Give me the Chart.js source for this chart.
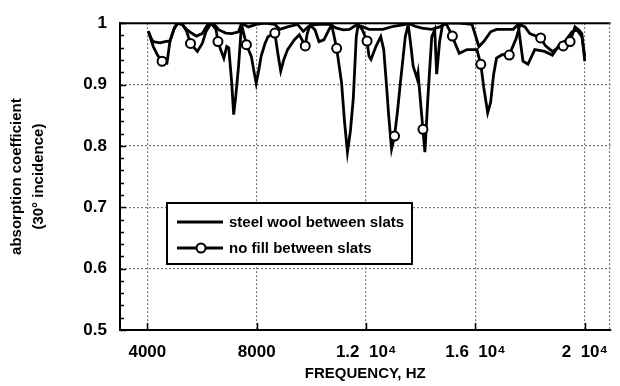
<!DOCTYPE html>
<html>
<head>
<meta charset="utf-8">
<script src="https://cdn.jsdelivr.net/npm/chart.js@4.4.0/dist/chart.umd.min.js"></script>
<style>
  html, body { margin: 0; padding: 0; background: #fff; }
  #wrap { width: 620px; height: 386px; }
</style>
</head>
<body>
<div id="wrap"><canvas id="absorptionChart" width="620" height="386"></canvas></div>
<script>
// frequencies (Hz) and absorption values
const steelWoolFreq = [4036, 4143, 4215, 4466, 4646, 4825, 4969, 5112, 5291, 5435, 5614, 5793, 6009, 6152, 6260, 6404,
  6619, 6870, 7085, 7336, 7444, 7695, 7982, 8304, 8663, 8843, 9129, 9488, 9703, 9954, 10313, 10672, 10923, 11174,
  11390, 11641, 11892, 12107, 12609, 13004, 13434, 13541, 13792, 14043, 14402, 14689, 14941, 15407, 15873, 16125,
  16304, 16555, 16770, 17021, 17379, 17559, 17738, 17918, 18169, 18527, 18814, 19065, 19281, 19532, 19712, 19891, 19998];
const steelWoolAbs = [0.987, 0.975, 0.970, 0.968, 0.970, 0.971, 0.990, 1.0, 0.997, 0.990, 0.984, 0.979, 0.983, 0.994, 1.0, 1.0,
  0.989, 0.984, 0.983, 0.986, 1.0, 0.994, 0.998, 1.0, 0.998, 0.990, 0.994, 0.998, 0.987, 0.997, 0.998, 0.998, 0.992, 0.989,
  0.990, 0.997, 0.994, 0.990, 0.990, 0.995, 0.998, 1.0, 0.995, 0.992, 0.990, 0.994, 1.0, 1.0, 0.998, 0.962,
  0.970, 0.986, 0.990, 0.990, 0.990, 0.998, 0.938, 0.933, 0.957, 0.954, 0.948, 0.965, 0.971, 0.986, 0.989, 0.978, 0.946];

const noFillFreq = [4036, 4215, 4359, 4538, 4717, 4825, 5004, 5112, 5291, 5435, 5578, 5829, 6009, 6152, 6332, 6511,
  6583, 6690, 6798, 6905, 6977, 7085, 7157, 7229, 7336, 7444, 7623, 7802, 7910, 7982, 8089, 8161, 8304, 8412, 8663,
  8771, 8878, 8986, 9129, 9380, 9560, 9775, 9847, 9954, 10134, 10277, 10457, 10636, 10744, 10923, 11103, 11210,
  11318, 11426, 11533, 11641, 11712, 11856, 12035, 12107, 12179, 12358, 12537, 12645, 12753, 12824, 12932, 13040,
  13147, 13255, 13434, 13541, 13649, 13721, 13864, 13900, 14008, 14079, 14151, 14259, 14402, 14510, 14582, 14689,
  14797, 14941, 15156, 15227, 15407, 15694, 16052, 16196, 16304, 16447, 16555, 16662, 16770, 16985, 17236, 17487,
  17631, 17810, 17989, 18384, 18563, 18814, 19029, 19209, 19460, 19640, 19783, 19891, 19998];
const noFillAbs = [0.987, 0.962, 0.949, 0.938, 0.935, 0.970, 0.994, 1.0, 0.998, 0.987, 0.967, 0.954, 0.967, 0.987, 1.0, 0.990,
  0.970, 0.956, 0.943, 0.962, 0.960, 0.903, 0.851, 0.879, 0.930, 0.998, 0.965, 0.946, 0.919, 0.902, 0.927, 0.946, 0.967, 0.978, 0.984,
  0.951, 0.922, 0.940, 0.957, 0.973, 0.981, 0.963, 0.983, 0.997, 0.989, 0.970, 0.973, 0.989, 0.997, 0.959, 0.903, 0.840,
  0.790, 0.824, 0.878, 0.978, 0.998, 0.990, 0.971, 0.946, 0.941, 0.962, 0.978, 0.957, 0.895, 0.851, 0.795, 0.816,
  0.856, 0.903, 0.978, 0.998, 0.959, 0.930, 0.910, 0.919, 0.863, 0.827, 0.790, 0.878, 0.978, 0.989, 0.917, 0.970,
  0.998, 0.998, 0.979, 0.970, 0.951, 0.957, 0.957, 0.933, 0.895, 0.854, 0.871, 0.916, 0.943, 0.949, 0.948, 0.975,
  0.998, 0.994, 0.983, 0.976, 0.963, 0.954, 0.960, 0.963, 0.970, 0.994, 0.989, 0.983, 0.938];
// points of the no-fill curve that carry an open circle
const noFillMarkerFreq = [4538, 5578, 6583, 7623, 8663, 9775, 10923, 12035, 13040, 14079, 15156, 16196, 17236, 18384, 19209, 19460];

const seriesLabels = ['steel wool between slats', 'no fill between slats'];
const xTickValues = [4000, 8000, 12000, 16000, 20000];
const xTickLabels = ['4000', '8000', '1.2  10⁴', '1.6  10⁴', '2  10⁴'];
const yTickValues = [0.5, 0.6, 0.7, 0.8, 0.9, 1];
const yTickLabels = ['0.5', '0.6', '0.7', '0.8', '0.9', '1'];

const bold = (size) => ({ family: 'Liberation Sans, Arial, sans-serif', size: size, weight: 'bold' });

// frame, inward tick marks and the boxed legend inside the plot
const frameAndLegend = {
    id: 'frameAndLegend',
    afterDatasetsDraw(chart) {
        const { ctx, chartArea: a, scales: { x, y } } = chart;
        ctx.save();

        ctx.strokeStyle = '#000';
        ctx.lineWidth = 2;
        ctx.beginPath();
        ctx.moveTo(a.left, a.top);
        ctx.lineTo(a.right, a.top);
        ctx.stroke();

        ctx.strokeStyle = '#777';
        ctx.lineWidth = 1.2;
        ctx.setLineDash([2, 2]);
        ctx.beginPath();
        ctx.moveTo(a.right - 1, a.top);
        ctx.lineTo(a.right - 1, a.bottom);
        ctx.stroke();
        ctx.setLineDash([]);

        ctx.strokeStyle = '#000';
        ctx.lineWidth = 1.5;
        ctx.beginPath();
        for (let i = 0; i <= 25; i++) {
            const v = 0.5 + i * 0.02;
            const py = Math.round(y.getPixelForValue(v)) + 0.5;
            ctx.moveTo(a.left, py);
            ctx.lineTo(a.left + (i % 5 === 0 ? 6 : 4), py);
        }
        xTickValues.forEach((v) => {
            const px = Math.round(x.getPixelForValue(v)) + 0.5;
            ctx.moveTo(px, a.bottom);
            ctx.lineTo(px, a.bottom - 7);
        });
        ctx.stroke();

        // legend box
        const bx = 167, by = 203, bw = 245, bh = 61;
        ctx.fillStyle = '#fff';
        ctx.fillRect(bx, by, bw, bh);
        ctx.lineWidth = 2;
        ctx.strokeRect(bx, by, bw, bh);

        const rows = [222, 248];
        ctx.lineWidth = 2.8;
        rows.forEach((ry) => {
            ctx.beginPath();
            ctx.moveTo(177, ry);
            ctx.lineTo(223, ry);
            ctx.stroke();
        });
        ctx.beginPath();
        ctx.arc(201, rows[1], 4.5, 0, Math.PI * 2);
        ctx.fillStyle = '#fff';
        ctx.fill();
        ctx.lineWidth = 2;
        ctx.stroke();

        ctx.fillStyle = '#000';
        ctx.font = 'bold 15px "Liberation Sans", Arial, sans-serif';
        ctx.textBaseline = 'middle';
        ctx.textAlign = 'left';
        seriesLabels.forEach((t, i) => ctx.fillText(t, 229, rows[i] + 1));
        ctx.restore();
    }
};

const toPoints = (xs, ys) => xs.map((f, i) => ({ x: f, y: ys[i] }));

new Chart(document.getElementById('absorptionChart').getContext('2d'), {
    type: 'line',
    data: {
        datasets: [
            {
                label: seriesLabels[0],
                data: toPoints(steelWoolFreq, steelWoolAbs),
                borderColor: '#000',
                borderWidth: 2.8,
                pointRadius: 0,
                tension: 0,
                order: 1
            },
            {
                label: seriesLabels[1],
                data: toPoints(noFillFreq, noFillAbs),
                borderColor: '#000',
                borderWidth: 2.8,
                pointRadius: (c) => (noFillMarkerFreq.includes(noFillFreq[c.dataIndex]) ? 4.5 : 0),
                pointBackgroundColor: '#fff',
                pointBorderColor: '#000',
                pointBorderWidth: 2,
                tension: 0,
                order: 0
            }
        ]
    },
    options: {
        responsive: false,
        animation: false,
        devicePixelRatio: 1,
        layout: { padding: { top: 14, right: 1, left: 0, bottom: 0 } },
        plugins: {
            legend: { display: false },
            tooltip: { enabled: false }
        },
        scales: {
            x: {
                type: 'linear',
                min: 3000,
                max: 20940,
                afterBuildTicks: (s) => { s.ticks = xTickValues.map((v) => ({ value: v })); },
                afterFit: (s) => { s.height = 56; },
                ticks: {
                    color: '#000',
                    font: bold(17),
                    padding: 12,
                    maxRotation: 0,
                    callback: (v) => xTickLabels[xTickValues.indexOf(v)]
                },
                grid: { color: '#777', lineWidth: 1.2, drawTicks: false },
                border: { color: '#000', width: 2, dash: [2, 2] },
                title: {
                    display: true,
                    text: 'FREQUENCY, HZ',
                    color: '#000',
                    font: bold(15),
                    padding: { top: 0, bottom: 3 }
                }
            },
            y: {
                min: 0.5,
                max: 1,
                afterBuildTicks: (s) => { s.ticks = yTickValues.map((v) => ({ value: v })); },
                afterFit: (s) => { s.width = 120; },
                ticks: {
                    color: '#000',
                    font: bold(17),
                    padding: 13,
                    callback: (v) => yTickLabels[yTickValues.indexOf(v)]
                },
                grid: { color: '#777', lineWidth: 1.2, drawTicks: false },
                border: { color: '#000', width: 2, dash: [2, 2] },
                title: {
                    display: true,
                    text: ['absorption coefficient', '(30° incidence)'],
                    color: '#000',
                    font: { family: 'Liberation Sans, Arial, sans-serif', size: 15, weight: 'bold', lineHeight: 1.45 },
                    padding: { top: 6, bottom: 0 }
                }
            }
        }
    },
    plugins: [frameAndLegend]
});
</script>
</body>
</html>
